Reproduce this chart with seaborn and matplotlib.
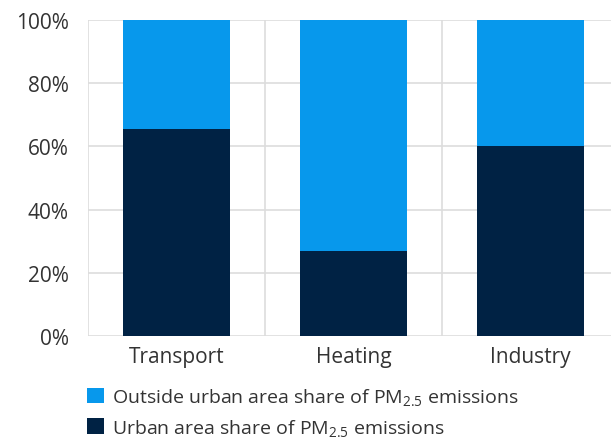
import matplotlib
matplotlib.use("Agg")
import matplotlib.pyplot as plt
import seaborn as sns
import pandas as pd
from matplotlib.patches import Patch
from matplotlib.ticker import FuncFormatter

categories = ["Transport", "Heating", "Industry"]
urban = [65.5, 27.0, 60.0]
outside = [34.5, 73.0, 40.0]
y_ticks = [0, 20, 40, 60, 80, 100]

sns.set_theme(style="white")
plt.rcParams['font.family'] = ['Open Sans', 'DejaVu Sans']
plt.rcParams['mathtext.fontset'] = 'custom'
plt.rcParams['mathtext.rm'] = 'Open Sans'
plt.rcParams['mathtext.it'] = 'Open Sans'

DARK = "#002244"
LIGHT = "#0798ec"

fig = plt.figure(figsize=(6.11, 4.39), dpi=100)
W, H = 611, 439
ax = fig.add_axes([88 / W, 1 - 337 / H, (611 - 88) / W, (337 - 21) / H])

df = pd.DataFrame({"cat": categories, "urban": urban, "outside": outside})
sns.barplot(data=df, x="cat", y="urban", color=DARK, width=0.6, ax=ax,
            saturation=1, zorder=3, edgecolor="none", linewidth=0)
sns.barplot(data=df, x="cat", y="outside", color=LIGHT, width=0.6, ax=ax,
            saturation=1, bottom=df["urban"], zorder=3, edgecolor="none", linewidth=0)

ax.set_xlim(-0.5, -0.5 + 523 / 177)
ax.set_ylim(0, 100)
ax.set_yticks(y_ticks)
ax.yaxis.set_major_formatter(FuncFormatter(lambda v, p: f"{int(v)}%"))
ax.set_xlabel("")
ax.set_ylabel("")
for s in ax.spines.values():
    s.set_visible(False)
ax.grid(axis="y", color="#dddddd", linewidth=1.2, zorder=0)
for xb in [-0.5, 0.5, 1.5, 2.5]:
    ax.axvline(xb, color="#dddddd", linewidth=1.2, zorder=0)
ax.tick_params(axis="y", length=0, pad=14, labelsize=15, labelcolor="#333333")
ax.tick_params(axis="x", length=0, pad=7, labelsize=15, labelcolor="#333333")

handles = [Patch(facecolor=LIGHT, edgecolor="none"), Patch(facecolor=DARK, edgecolor="none")]
labels = ["Outside urban area share of PM$_{2.5}$ emissions",
          "Urban area share of PM$_{2.5}$ emissions"]
leg = fig.legend(handles, labels, loc="upper left", bbox_to_anchor=(87 / W, 1 - 387 / H),
                 frameon=False, fontsize=14, handlelength=0.85, handleheight=0.85,
                 handletextpad=0.45, labelspacing=0.5, borderaxespad=0, borderpad=0)
for t in leg.get_texts():
    t.set_color("#333333")

fig.savefig("out.png", dpi=100)
